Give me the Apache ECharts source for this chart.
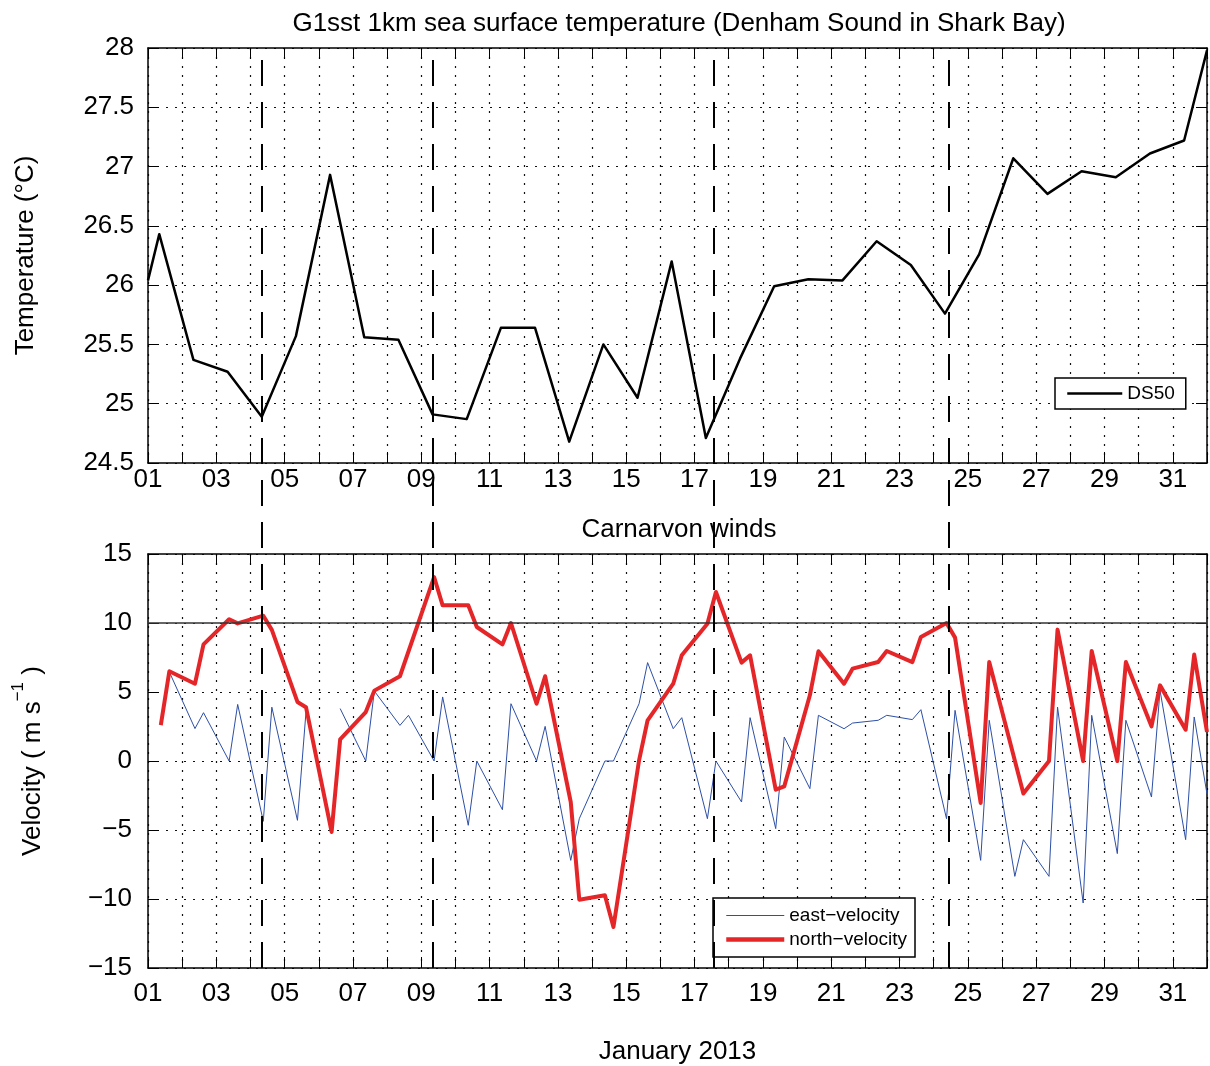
<!DOCTYPE html>
<html>
<head>
<meta charset="utf-8">
<title>Denham Sound SST and Carnarvon winds, January 2013</title>
<script src="https://cdn.jsdelivr.net/npm/echarts@6/dist/echarts.min.js"></script>
<style>
  html, body { margin: 0; padding: 0; background: #fff; }
  #chart { width: 1210px; height: 1066px; }
</style>
</head>
<body>
<div id="chart"></div>
<script>
// ---- tick labels ----
const dayTickLabels = ['01','03','05','07','09','11','13','15','17','19','21','23','25','27','29','31'];
const tempTickLabels = ['24.5','25','25.5','26','26.5','27','27.5','28'];
const windTickLabels = ['\u221215','\u221210','\u22125','0','5','10','15'];

// ---- G1SST 1 km sea surface temperature at DS50 (day of January 2013, deg C) ----
const sstDay = [1.0, 1.33, 2.33, 3.33, 4.33, 5.33, 6.33, 7.33, 8.33, 9.33, 10.33,
  11.33, 12.33, 13.33, 14.33, 15.33, 16.33, 17.33, 18.33, 19.33, 20.33, 21.33,
  22.33, 23.33, 24.33, 25.33, 26.33, 27.33, 28.33, 29.33, 30.33, 31.33, 32.0];
const sstTemp = [26.04, 26.43, 25.37, 25.27, 24.89, 25.57, 26.93, 25.56, 25.54, 24.91, 24.87,
  25.64, 25.64, 24.68, 25.50, 25.05, 26.20, 24.71, 25.38, 25.99, 26.05, 26.04,
  26.37, 26.17, 25.76, 26.26, 27.07, 26.77, 26.96, 26.91, 27.11, 27.22, 27.98];

// ---- Carnarvon 9am / 3pm wind components (m/s); null = no reading ----
const windDay = [1.375, 1.625, 2.375, 2.625, 3.375, 3.625, 4.375, 4.625, 5.375, 5.625,
  6.375, 6.625, 7.375, 7.625, 8.375, 8.625, 9.375, 9.625, 10.375, 10.625,
  11.375, 11.625, 12.375, 12.625, 13.375, 13.625, 14.375, 14.625, 15.375, 15.625,
  16.375, 16.625, 17.375, 17.625, 18.375, 18.625, 19.375, 19.625, 20.375, 20.625,
  21.375, 21.625, 22.375, 22.625, 23.375, 23.625, 24.375, 24.625, 25.375, 25.625,
  26.375, 26.625, 27.375, 27.625, 28.375, 28.625, 29.375, 29.625, 30.375, 30.625,
  31.375, 31.625, 32.0];
const eastVelocity = [null, 6.45, 2.35, 3.5, 0, 4.1, -4.37, 3.9, -4.3, 3.55,
  null, 3.8, 0, 5.07, 2.58, 3.31, 0, 4.64, -4.66, 0,
  -3.53, 4.15, 0, 2.51, -7.2, -4.18, 0, 0, 4.15, 7.13,
  2.34, 3.14, -4.18, 0, -2.97, 3.14, -4.9, 1.74, -2.0, 3.31,
  2.34, 2.75, 2.95, 3.31, 3.0, 3.72, -4.18, 3.67, -7.2, 2.95,
  -8.36, -5.7, -8.36, 3.91, -10.29, 3.31, -6.71, 2.95, -2.61, 5.12,
  -5.7, 3.19, -2.4];
const northVelocity = [2.6, 6.5, 5.6, 8.45, 10.27, 9.97, 10.53, 9.5, 4.28, 3.9,
  -5.14, 1.57, 3.55, 5.1, 6.14, null, 13.33, 11.28, 11.28, 9.71,
  8.45, 10.0, 4.15, 6.14, -2.97, -10.05, -9.73, -12.03, 0.05, 2.95,
  5.6, 7.66, 9.95, 12.25, 7.13, 7.66, -2.08, -1.84, 4.76, 7.95,
  5.6, 6.69, 7.17, 7.97, 7.17, 8.99, 10.0, 8.94, -3.04, 7.17,
  null, -2.36, 0, 9.52, 0, 7.97, 0, 7.17, 2.51, 5.48,
  2.27, 7.71, 2.1];

// ---- event times marked through both panels, and the 10 m/s reference ----
const eventDay = [4.33, 9.31, 17.52, 24.40];
const refVelocity = [10];

const FONT = '"Liberation Sans", Arial, Helvetica, sans-serif';
const BLACK = '#000';
const SST_COLOR = '#000';
const EAST_COLOR = '#2d4fa6';
const NORTH_COLOR = '#e52629';
const AXIS_LINE = { color: BLACK, width: 1.5 };
const TICK = { show: true, inside: true, length: 11, lineStyle: { color: BLACK, width: 1 } };
const GRID_DOTS = { show: true, lineStyle: { color: '#111', width: 1.2, type: [2, 7] } };
const LABEL_TEXT = { fontSize: 26, color: BLACK, fontFamily: FONT };
// legend keys show the line only, no marker
const NO_MARKER = { color: 'rgba(0,0,0,0)', borderColor: 'rgba(0,0,0,0)', borderWidth: 0 };

const dayLabel = v => {
  const i = (v - 1) / 2;
  return Number.isInteger(i) && i < dayTickLabels.length ? dayTickLabels[i] : '';
};
const tempLabel = v => tempTickLabels[Math.round((v - 24.5) / 0.5)] || '';
const windLabel = v => windTickLabels[Math.round((v + 15) / 5)] || '';

function dayAxis(gridIndex, position, extra) {
  const ax = {
    type: 'value', gridIndex, position, min: 1, max: 32, interval: 1,
    axisLine: { show: true, onZero: false, lineStyle: AXIS_LINE },
    axisTick: TICK,
    axisLabel: { show: false },
    splitLine: { show: false }
  };
  return Object.assign(ax, extra || {});
}
function valueAxis(gridIndex, position, min, max, interval, extra) {
  const ax = {
    type: 'value', gridIndex, position, min, max, interval,
    axisLine: { show: true, onZero: false, lineStyle: AXIS_LINE },
    axisTick: TICK,
    axisLabel: { show: false },
    splitLine: { show: false }
  };
  return Object.assign(ax, extra || {});
}

const chart = echarts.init(document.getElementById('chart'), null, { renderer: 'canvas' });

chart.setOption({
  animation: false,
  backgroundColor: '#fff',
  textStyle: { fontFamily: FONT },
  title: [
    { text: 'G1sst 1km sea surface temperature (Denham Sound in Shark Bay)',
      left: 679, top: 11, textAlign: 'center', padding: 0,
      textStyle: { fontSize: 26, fontWeight: 'normal', color: BLACK, fontFamily: FONT } },
    { text: 'Carnarvon winds',
      left: 679, top: 517, textAlign: 'center', padding: 0,
      textStyle: { fontSize: 26, fontWeight: 'normal', color: BLACK, fontFamily: FONT } }
  ],
  grid: [
    { left: 148, right: 1, top: 48, height: 415 },
    { left: 148, right: 1, top: 554, height: 414 },
    { left: 148, right: 1, top: 48, height: 920 }
  ],
  xAxis: [
    dayAxis(0, 'bottom', {
      axisLabel: Object.assign({ show: true, margin: 4, formatter: dayLabel }, LABEL_TEXT),
      splitLine: GRID_DOTS
    }),
    dayAxis(0, 'top'),
    dayAxis(1, 'bottom', {
      axisLabel: Object.assign({ show: true, margin: 13, formatter: dayLabel }, LABEL_TEXT),
      splitLine: GRID_DOTS,
      name: 'January 2013', nameLocation: 'middle', nameGap: 71,
      nameTextStyle: LABEL_TEXT
    }),
    dayAxis(1, 'top'),
    { type: 'value', gridIndex: 2, min: 1, max: 32, show: false }
  ],
  yAxis: [
    valueAxis(0, 'left', 24.5, 28, 0.5, {
      axisLabel: Object.assign({ show: true, margin: 14, formatter: tempLabel }, LABEL_TEXT),
      splitLine: GRID_DOTS,
      name: 'Temperature (\u00B0C)', nameLocation: 'middle', nameRotate: 90, nameGap: 109,
      nameTextStyle: LABEL_TEXT
    }),
    valueAxis(0, 'right', 24.5, 28, 0.5),
    valueAxis(1, 'left', -15, 15, 5, {
      axisLabel: Object.assign({ show: true, margin: 16, formatter: windLabel }, LABEL_TEXT),
      splitLine: GRID_DOTS,
      name: '{t|Velocity ( m s}{s|\u22121}{t| )}', nameLocation: 'middle', nameRotate: 90, nameGap: 102,
      nameTextStyle: {
        color: BLACK, fontFamily: FONT,
        rich: {
          t: { fontSize: 26, lineHeight: 36, color: BLACK, fontFamily: FONT, verticalAlign: 'bottom' },
          s: { fontSize: 17, lineHeight: 17, color: BLACK, fontFamily: FONT, verticalAlign: 'top' }
        }
      }
    }),
    valueAxis(1, 'right', -15, 15, 5),
    { type: 'value', gridIndex: 2, min: 0, max: 1, show: false }
  ],
  legend: [
    { data: [{ name: 'DS50', itemStyle: NO_MARKER, lineStyle: { color: SST_COLOR, width: 2.5 } }],
      left: 1055, top: 378, orient: 'horizontal',
      itemWidth: 55, itemHeight: 14, selectedMode: false,
      padding: [6, 11, 6, 11], backgroundColor: '#fff',
      borderColor: BLACK, borderWidth: 1.5, borderRadius: 0,
      itemStyle: NO_MARKER,
      textStyle: { fontSize: 19, color: BLACK, fontFamily: FONT } },
    { data: [
        { name: 'east\u2212velocity', itemStyle: NO_MARKER, lineStyle: { color: EAST_COLOR, width: 1 } },
        { name: 'north\u2212velocity', itemStyle: NO_MARKER, lineStyle: { color: NORTH_COLOR, width: 4.5 } }
      ],
      left: 713, top: 898, orient: 'vertical',
      itemWidth: 58, itemHeight: 14, itemGap: 5, selectedMode: false,
      padding: [8, 8, 8, 11], backgroundColor: '#fff',
      borderColor: BLACK, borderWidth: 1.5, borderRadius: 0,
      itemStyle: NO_MARKER,
      textStyle: { fontSize: 19, color: BLACK, fontFamily: FONT } }
  ],
  series: [
    {
      name: 'DS50', type: 'line', xAxisIndex: 0, yAxisIndex: 0,
      data: sstDay.map((d, i) => [d, sstTemp[i]]),
      symbol: 'none', z: 4,
      lineStyle: { color: SST_COLOR, width: 2.5, join: 'round' },
      itemStyle: { color: SST_COLOR }
    },
    {
      name: 'east\u2212velocity', type: 'line', xAxisIndex: 2, yAxisIndex: 2,
      data: windDay.map((d, i) => [d, eastVelocity[i]]),
      symbol: 'none', connectNulls: false, z: 3,
      lineStyle: { color: EAST_COLOR, width: 1 },
      itemStyle: { color: EAST_COLOR },
      markLine: {
        silent: true, symbol: 'none', label: { show: false },
        lineStyle: { color: '#333', width: 1.5, type: 'solid' },
        data: refVelocity.map(v => ({ yAxis: v }))
      }
    },
    {
      name: 'north\u2212velocity', type: 'line', xAxisIndex: 2, yAxisIndex: 2,
      data: windDay.map((d, i) => [d, northVelocity[i]]),
      symbol: 'none', connectNulls: true, z: 4,
      lineStyle: { color: NORTH_COLOR, width: 4, join: 'round' },
      itemStyle: { color: NORTH_COLOR }
    },
    {
      name: 'events', type: 'line', xAxisIndex: 4, yAxisIndex: 4,
      data: [], symbol: 'none', silent: true, z: 5,
      markLine: {
        silent: true, symbol: 'none', label: { show: false },
        lineStyle: { color: BLACK, width: 2, type: [26, 16] },
        data: eventDay.map(d => ({ xAxis: d }))
      }
    }
  ]
});
</script>
</body>
</html>
